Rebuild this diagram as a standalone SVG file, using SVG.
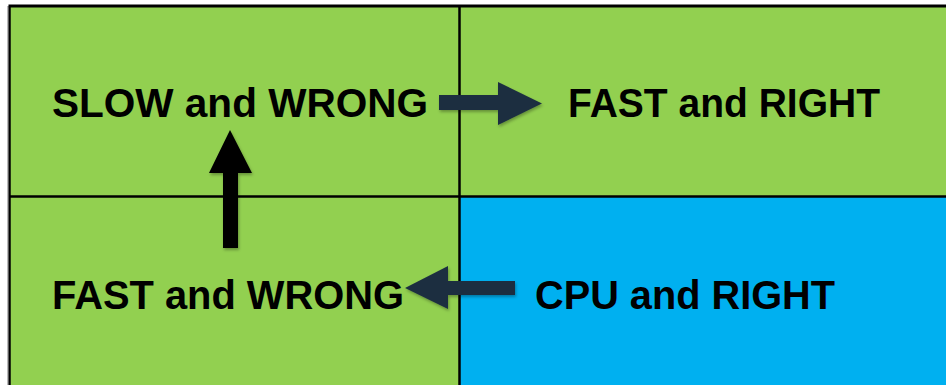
<svg xmlns="http://www.w3.org/2000/svg" width="946" height="385" viewBox="0 0 946 385">
  <style>
    .cell-green { fill: #92D050; }
    .cell-blue { fill: #00B0F0; }
    .grid { stroke: #000; stroke-width: 2.5; fill: none; }
    .label { font-family: "Liberation Sans", Arial, sans-serif; font-weight: bold; font-size: 40px; fill: #000; }
    .arrow-dark { fill: #1C2F41; }
    .arrow-black { fill: #000; }
  </style>
  <defs>
    <filter id="shadow" x="-20%" y="-20%" width="140%" height="160%">
      <feDropShadow dx="1" dy="2" stdDeviation="1.5" flood-color="#000" flood-opacity="0.3"/>
    </filter>
  </defs>

  <!-- quadrant cells -->
  <g id="cell-top-left">
    <rect class="cell-green" x="10" y="7" width="449" height="190"/>
    <text class="label" x="52" y="117" textLength="376" lengthAdjust="spacingAndGlyphs">SLOW and WRONG</text>
  </g>
  <g id="cell-top-right">
    <rect class="cell-green" x="459" y="7" width="487" height="190"/>
    <text class="label" x="568" y="117" textLength="312" lengthAdjust="spacingAndGlyphs">FAST and RIGHT</text>
  </g>
  <g id="cell-bottom-left">
    <rect class="cell-green" x="10" y="197" width="449" height="188"/>
    <text class="label" x="52" y="309" textLength="352" lengthAdjust="spacingAndGlyphs">FAST and WRONG</text>
  </g>
  <g id="cell-bottom-right">
    <rect class="cell-blue" x="459" y="197" width="487" height="188"/>
    <text class="label" x="535" y="309" textLength="300" lengthAdjust="spacingAndGlyphs">CPU and RIGHT</text>
  </g>

  <!-- grid lines -->
  <g id="grid">
    <line x1="8.5" y1="6" x2="946" y2="6" stroke="#000" stroke-width="3"/>
    <line class="grid" x1="9.5" y1="6" x2="9.5" y2="385"/>
    <line x1="8" y1="6" x2="8" y2="385" stroke="#777" stroke-width="1"/>
    <line class="grid" x1="459.5" y1="6" x2="459.5" y2="385"/>
    <line class="grid" x1="9" y1="196.5" x2="946" y2="196.5"/>
  </g>

  <!-- connectors -->
  <g id="connectors" filter="url(#shadow)">
    <polygon class="arrow-dark" points="439,95 498,95 498,82 542,103.5 498,125 498,110 439,110"/>
    <polygon class="arrow-black" points="223,248 223,173 209,173 230,130 252,173 238,173 238,248"/>
    <polygon class="arrow-dark" points="515,281 448,281 448,266 405,288 448,309 448,295 515,295"/>
  </g>
</svg>
